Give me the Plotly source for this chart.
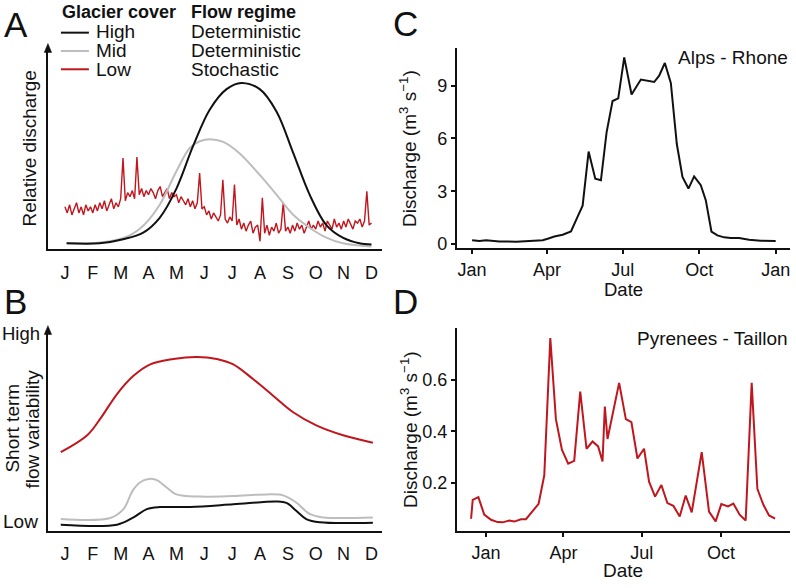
import plotly.graph_objects as go
import pandas as pd

W, H = 796, 588
FONT = "Liberation Sans, Arial, Helvetica, sans-serif"
BLACK = "#111111"
GRAY = "#BDBDBD"
RED = "#C0161E"

# ---------------- Data ----------------
month_labels = ["J", "F", "M", "A", "M", "J", "J", "A", "S", "O", "N", "D"]
month_pos = list(range(1, 13))

# Panel A: relative discharge (schematic)
a_high_x = [1.06, 2.25, 3.09, 3.81, 4.40, 5.0, 5.6, 6.2, 6.8, 7.33, 7.99, 8.59, 9.18, 9.78, 10.38, 10.97, 11.57, 12.0]
a_high_y = [0.03, 0.03, 0.05, 0.083, 0.156, 0.30, 0.51, 0.69, 0.79, 0.82, 0.79, 0.68, 0.48, 0.27, 0.12, 0.058, 0.03, 0.024]

a_mid_x = [1.06, 2.25, 3.18, 3.81, 4.40, 5.0, 5.48, 5.84, 6.2, 6.68, 7.27, 7.99, 8.59, 9.18, 9.78, 10.38, 10.97, 12.0]
a_mid_y = [0.03, 0.034, 0.06, 0.117, 0.22, 0.385, 0.50, 0.533, 0.543, 0.53, 0.473, 0.367, 0.27, 0.172, 0.107, 0.058, 0.03, 0.015]

a_low_y = [
    0.21, 0.18, 0.22, 0.17, 0.20, 0.23, 0.18, 0.21, 0.17, 0.22, 0.19, 0.21,
    0.18, 0.22, 0.19, 0.23, 0.20, 0.24, 0.19, 0.22, 0.25, 0.20, 0.23, 0.21,
    0.25, 0.45, 0.24, 0.28, 0.26, 0.29, 0.25, 0.455, 0.27, 0.30, 0.26, 0.29,
    0.27, 0.30, 0.28, 0.25, 0.29, 0.31, 0.26, 0.28, 0.30, 0.25, 0.28, 0.26,
    0.27, 0.23, 0.26, 0.24, 0.22, 0.25, 0.21, 0.24, 0.20, 0.23, 0.376, 0.20,
    0.21, 0.17, 0.19, 0.15, 0.18, 0.16, 0.14, 0.17, 0.343, 0.15, 0.13, 0.16,
    0.14, 0.32, 0.12, 0.15, 0.10, 0.13, 0.09, 0.12, 0.14, 0.08, 0.11, 0.12,
    0.04, 0.254, 0.08, 0.12, 0.07, 0.11, 0.09, 0.13, 0.08, 0.10, 0.23, 0.09,
    0.11, 0.08, 0.12, 0.09, 0.13, 0.10, 0.12, 0.08, 0.11, 0.14, 0.10, 0.12,
    0.10, 0.14, 0.11, 0.13, 0.09, 0.14, 0.12, 0.10, 0.15, 0.11, 0.13, 0.10,
    0.14, 0.11, 0.15, 0.12, 0.10, 0.14, 0.13, 0.15, 0.11, 0.14, 0.286, 0.12,
    0.13,
]
a_low_x = [1 + i / 12 for i in range(len(a_low_y))]

# Panel B: short-term flow variability (schematic)
b_low_x = [0.85, 1.8, 2.27, 2.87, 3.46, 4.06, 4.89, 5.73, 6.45, 7.04, 7.76, 8.47, 9.19, 10.02, 10.98, 12.05]
b_low_y = [0.388, 0.472, 0.554, 0.676, 0.766, 0.823, 0.85, 0.86, 0.85, 0.823, 0.749, 0.668, 0.586, 0.521, 0.472, 0.435]

b_mid_x = [0.85, 2.63, 3.1, 3.46, 3.82, 4.24, 4.66, 5.0, 5.84, 7.04, 8.23, 8.83, 9.3, 9.78, 10.26, 12.05]
b_mid_y = [0.057, 0.062, 0.106, 0.204, 0.248, 0.253, 0.212, 0.179, 0.168, 0.171, 0.179, 0.174, 0.139, 0.082, 0.065, 0.065]

b_high_x = [0.85, 2.87, 3.46, 3.94, 4.42, 5.49, 7.04, 8.59, 8.95, 9.3, 9.66, 10.14, 12.05]
b_high_y = [0.029, 0.029, 0.065, 0.106, 0.116, 0.117, 0.13, 0.144, 0.137, 0.098, 0.057, 0.041, 0.039]

# Panel C: Alps - Rhone (day offset from 1 Jan, discharge m3/s)
c_day = [0, 8.8, 16.8, 32.8, 52.8, 72.8, 84.8, 90.8, 98.8, 108.8, 118.8, 126.8, 132.8, 140, 148,
         154.8, 161.6, 168.8, 175.6, 182.8, 191.6, 202.8, 218.8, 224.8, 231.6, 238.8, 246, 252.8,
         260, 266.8, 274.8, 280.8, 287.6, 294.8, 302.8, 310.8, 320.8, 332.8, 346.8, 364.8]
c_val = [0.21, 0.17, 0.21, 0.15, 0.13, 0.19, 0.22, 0.30, 0.43, 0.53, 0.71, 1.56, 2.18, 5.25, 3.71,
         3.62, 6.34, 8.12, 8.27, 10.6, 8.49, 9.34, 9.2, 9.56, 10.28, 9.15, 5.68, 3.81,
         3.15, 3.84, 3.34, 2.49, 0.71, 0.49, 0.38, 0.34, 0.34, 0.24, 0.19, 0.17]

# Panel D: Pyrenees - Taillon
d_day = [-17.4, -15.5, -8.9, -2.1, 5.8, 13.5, 19.3, 27, 32.8, 40.6, 46.4, 54.1, 61.1, 67.7, 74.7,
         81.2, 88.2, 95.5, 102.5, 109.5, 116.8, 123.8, 130.3, 135.4, 138.1, 141.2, 147.8, 154.7,
         162.5, 169.0, 176.0, 183.7, 189.5, 196.5, 203.8, 210.8, 217.8, 225.1, 232.1, 239.1,
         250.7, 259.2, 266.9, 273.5, 281.3, 287.5, 294.8, 301.8, 308.8, 315.4, 322.4, 329.0, 336]
d_val = [0.06, 0.133, 0.144, 0.076, 0.056, 0.047, 0.046, 0.053, 0.049, 0.058, 0.058, 0.088, 0.118, 0.229, 0.762,
         0.447, 0.328, 0.274, 0.285, 0.554, 0.332, 0.36, 0.341, 0.283, 0.496, 0.37, 0.479, 0.588,
         0.447, 0.435, 0.294, 0.332, 0.204, 0.146, 0.191, 0.121, 0.11, 0.069, 0.15, 0.085,
         0.319, 0.088, 0.05, 0.117, 0.108, 0.119, 0.076, 0.053, 0.588, 0.176, 0.114, 0.073, 0.06]

date_ticks = ["2013-01-01", "2013-04-01", "2013-07-01", "2013-10-01", "2014-01-01"]
date_ticktext = ["Jan", "Apr", "Jul", "Oct", "Jan"]

base = pd.Timestamp("2013-01-01")
c_dates = base + pd.to_timedelta(c_day, unit="D")
d_dates = base + pd.to_timedelta(d_day, unit="D")


def px(x):
    return x / W


def py(y):
    return 1 - y / H


fig = go.Figure()

# Panel A
fig.add_trace(go.Scatter(x=a_low_x, y=a_low_y, mode="lines", line=dict(color=RED, width=1.4),
                         xaxis="x", yaxis="y"))
fig.add_trace(go.Scatter(x=a_mid_x, y=a_mid_y, mode="lines", line=dict(color=GRAY, width=2, shape="spline"),
                         xaxis="x", yaxis="y"))
fig.add_trace(go.Scatter(x=a_high_x, y=a_high_y, mode="lines", line=dict(color=BLACK, width=2, shape="spline"),
                         xaxis="x", yaxis="y"))

# Panel B
fig.add_trace(go.Scatter(x=b_low_x, y=b_low_y, mode="lines", line=dict(color=RED, width=2, shape="spline"),
                         xaxis="x2", yaxis="y2"))
fig.add_trace(go.Scatter(x=b_mid_x, y=b_mid_y, mode="lines", line=dict(color=GRAY, width=2, shape="spline"),
                         xaxis="x2", yaxis="y2"))
fig.add_trace(go.Scatter(x=b_high_x, y=b_high_y, mode="lines", line=dict(color=BLACK, width=2, shape="spline"),
                         xaxis="x2", yaxis="y2"))

# Panel C
fig.add_trace(go.Scatter(x=c_dates, y=c_val, mode="lines", line=dict(color=BLACK, width=2),
                         xaxis="x3", yaxis="y3"))
# Panel D
fig.add_trace(go.Scatter(x=d_dates, y=d_val, mode="lines", line=dict(color=RED, width=2),
                         xaxis="x4", yaxis="y4"))

left_dom = [px(48), px(382)]
right_dom = [px(457.3), px(790.7)]

sch_x = dict(range=[0.39, 12.36], tickmode="array", tickvals=month_pos, ticktext=month_labels,
             showline=True, linecolor=BLACK, linewidth=2, showgrid=False, zeroline=False,
             ticks="outside", ticklen=6, tickcolor="rgba(0,0,0,0)",
             tickfont=dict(size=18, color=BLACK, family=FONT), fixedrange=True)
sch_y = dict(showline=True, linecolor=BLACK, linewidth=2, showgrid=False, zeroline=False,
             showticklabels=False, ticks="", fixedrange=True)

date_x = dict(type="date", tickmode="array", tickvals=date_ticks, ticktext=date_ticktext,
              showline=True, linecolor=BLACK, linewidth=1.5, showgrid=False, zeroline=False,
              ticks="outside", ticklen=4, tickwidth=1.5, tickcolor=BLACK,
              tickfont=dict(size=18, color=BLACK, family=FONT))
num_y = dict(showline=True, linecolor=BLACK, linewidth=1.5, showgrid=False, zeroline=False,
             ticks="outside", ticklen=4, tickwidth=1.5, tickcolor=BLACK,
             tickfont=dict(size=18, color=BLACK, family=FONT))

fig.update_layout(
    width=W, height=H, margin=dict(l=0, r=0, t=0, b=0),
    paper_bgcolor="white", plot_bgcolor="white", showlegend=False,
    font=dict(family=FONT, color=BLACK),
    xaxis=dict(domain=left_dom, anchor="y", **sch_x),
    yaxis=dict(domain=[py(252), py(52)], anchor="x", range=[0, 200 / 205], **sch_y),
    xaxis2=dict(domain=left_dom, anchor="y2", **sch_x),
    yaxis2=dict(domain=[py(536), py(337)], anchor="x2", range=[0, 199 / 204], **sch_y),
    xaxis3=dict(domain=right_dom, anchor="y3", range=["2012-12-13 12:00", "2014-01-17 16:00"], **date_x),
    yaxis3=dict(domain=[py(251), py(48)], anchor="x3", range=[-0.25, 11.16],
                tickvals=[0, 3, 6, 9], **num_y),
    xaxis4=dict(domain=right_dom, anchor="y4", range=["2012-11-27 22:00", "2013-12-20"], **date_x),
    yaxis4=dict(domain=[py(536.7), py(331.7)], anchor="x4", range=[0.0115, 0.8],
                tickvals=[0.2, 0.4, 0.6], ticktext=["0.2", "0.4", "0.6"], **num_y),
)

# Arrow heads on schematic y axes
shapes = []
for tip, base_y in [(44, 53), (329, 338)]:
    shapes.append(dict(type="path", xref="paper", yref="paper",
                       path=f"M {px(48)},{py(tip)} L {px(44.3)},{py(base_y)} L {px(51.7)},{py(base_y)} Z",
                       fillcolor=BLACK, line=dict(color=BLACK, width=0.5)))
# Legend line samples
for yy, col in [(33, BLACK), (51.5, GRAY), (70, RED)]:
    shapes.append(dict(type="line", xref="paper", yref="paper", x0=px(61), x1=px(89), y0=py(yy), y1=py(yy),
                       line=dict(color=col, width=2)))
fig.update_layout(shapes=shapes)

ann = []


def txt(x, y, s, size=19, xanchor="left", yanchor="middle", bold=False, angle=0):
    if bold:
        s = f"<b>{s}</b>"
    ann.append(dict(x=px(x), y=py(y), xref="paper", yref="paper", text=s, showarrow=False,
                    xanchor=xanchor, yanchor=yanchor, textangle=angle,
                    font=dict(size=size, color=BLACK, family=FONT)))


# Panel letters
txt(16, 25, "A", size=35, xanchor="center")
txt(16, 305, "B", size=35, xanchor="center")
txt(406, 24, "C", size=35, xanchor="center")
txt(406, 305, "D", size=35, xanchor="center")

# Legend table
txt(60, 12, "Glacier cover", size=18, bold=True)
txt(189, 12, "Flow regime", size=18, bold=True)
for yy, lab, reg in [(32, "High", "Deterministic"), (51, "Mid", "Deterministic"), (70, "Low", "Stochastic")]:
    txt(94, yy, lab)
    txt(189, yy, reg)

# Axis titles for schematic panels
txt(30, 150, "Relative discharge", xanchor="center", angle=-90)
txt(13, 432, "Short term", xanchor="center", angle=-90)
txt(33, 433, "flow variability", xanchor="center", angle=-90)
txt(0, 337, "High", size=18.5, xanchor="left")
txt(1, 527, "Low", xanchor="left")

# Panel C/D labels
txt(791, 58, "Alps - Rhone", xanchor="right")
txt(791, 342, "Pyrenees - Taillon", xanchor="right")
txt(409, 150, "Discharge (m<sup>3</sup> s<sup>\u22121</sup>)", xanchor="center", angle=-90)
txt(409, 434, "Discharge (m<sup>3</sup> s<sup>\u22121</sup>)", xanchor="center", angle=-90)
txt(624, 292, "Date", size=18.5, xanchor="center")
txt(624, 576, "Date", xanchor="center")

fig.update_layout(annotations=ann)

fig.write_html("out.html", config={"displayModeBar": False},
               post_script="document.body.style.margin='0px';document.body.style.padding='0px';")
